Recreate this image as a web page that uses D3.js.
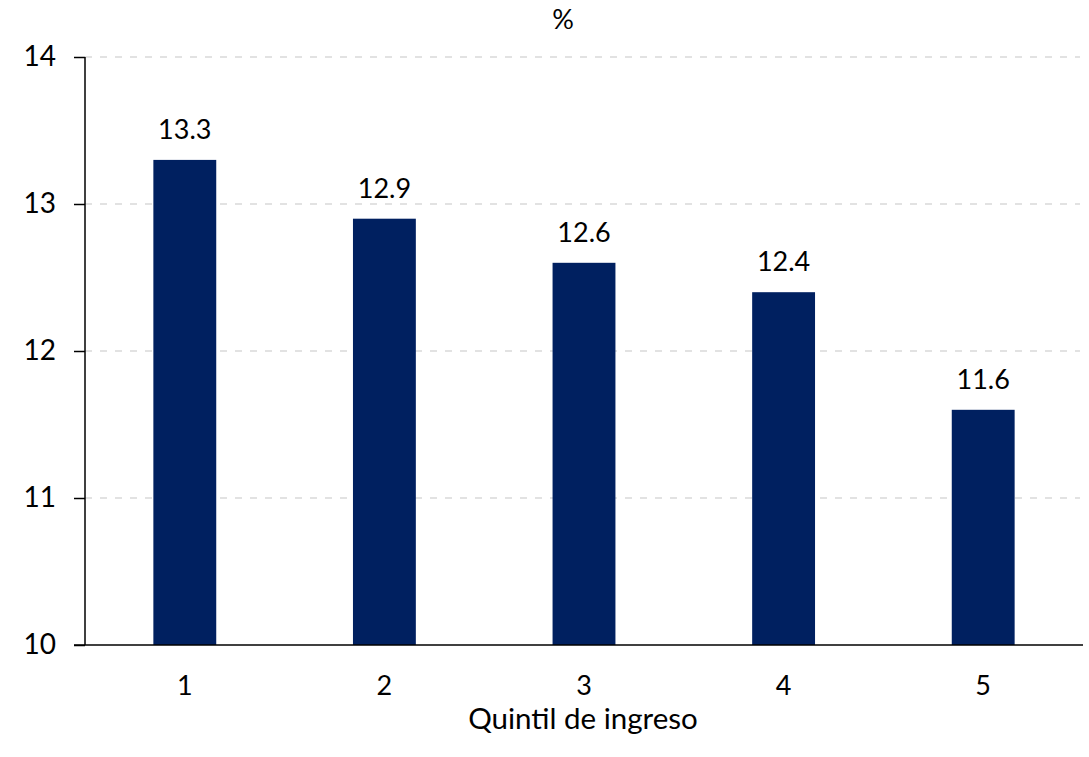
<!DOCTYPE html>
<html><head><meta charset="utf-8">
<script src="https://cdn.jsdelivr.net/npm/d3@7"></script>
<style>body{margin:0;background:#fff;} text{font-family:Lato, "Open Sans", sans-serif;fill:#000;}</style>
</head><body>
<svg id="c" width="1089" height="757"></svg>
<script>
const categories = ["1","2","3","4","5"];
const values = [13.3, 12.9, 12.6, 12.4, 11.6];
const yTicks = [10, 11, 12, 13, 14];
const yLabel = "%";
const xLabel = "Quintil de ingreso";

const svg = d3.select("#c");
const m = {l:85, r:1083, t:57, b:645};
const x = d3.scaleBand().domain(categories).range([m.l, m.r]).paddingInner(0.685).paddingOuter(0.3425);
const y = d3.scaleLinear().domain([10,14]).range([m.b, m.t]);

// gridlines
svg.append("g").selectAll("line").data(yTicks.filter(d=>d!==10)).join("line")
  .attr("x1", m.l).attr("x2", 1080).attr("y1", d=>y(d)).attr("y2", d=>y(d))
  .attr("stroke", "#d9d9d9").attr("stroke-width", 1.5).attr("stroke-dasharray", "7,8");

// bars
svg.append("g").selectAll("rect").data(values).join("rect")
  .attr("x", (d,i)=>x(categories[i])).attr("width", x.bandwidth())
  .attr("y", d=>y(d)).attr("height", d=>y(10)-y(d))
  .attr("fill", "#002060");

// value labels
svg.append("g").selectAll("text").data(values).join("text")
  .attr("x", (d,i)=>x(categories[i])+x.bandwidth()/2).attr("y", d=>y(d)-21)
  .attr("text-anchor","middle").attr("font-size", 27).text(d=>d.toFixed(1));

// y axis
const yAxis = d3.axisLeft(y).tickValues(yTicks).tickSize(11).tickPadding(18).tickFormat(d3.format("d"));
const gy = svg.append("g").attr("transform", `translate(${m.l},0)`).call(yAxis);
gy.select(".domain").attr("stroke","#000").attr("stroke-width",1.5).attr("d", `M0,${m.t}V${m.b}`);
gy.selectAll(".tick line").attr("stroke","#000").attr("stroke-width",1.5);
gy.selectAll(".tick text").attr("font-size",28).attr("font-family","Lato").attr("fill","#000");

// x axis
const xAxis = d3.axisBottom(x).tickSize(0).tickPadding(31);
const gx = svg.append("g").attr("transform", `translate(0,${m.b})`).call(xAxis);
gx.select(".domain").attr("stroke","#000").attr("stroke-width",1.5).attr("d", `M${m.l-11},0H${m.r}`);
gx.selectAll(".tick text").attr("font-size",27).attr("font-family","Lato").attr("fill","#000");

svg.append("text").attr("x", 563).attr("y", 29).attr("text-anchor","middle").attr("font-size",27).text(yLabel);
svg.append("text").attr("x", 583).attr("y", 729).attr("text-anchor","middle").attr("font-size",29.5).text(xLabel);
</script>
</body></html>
